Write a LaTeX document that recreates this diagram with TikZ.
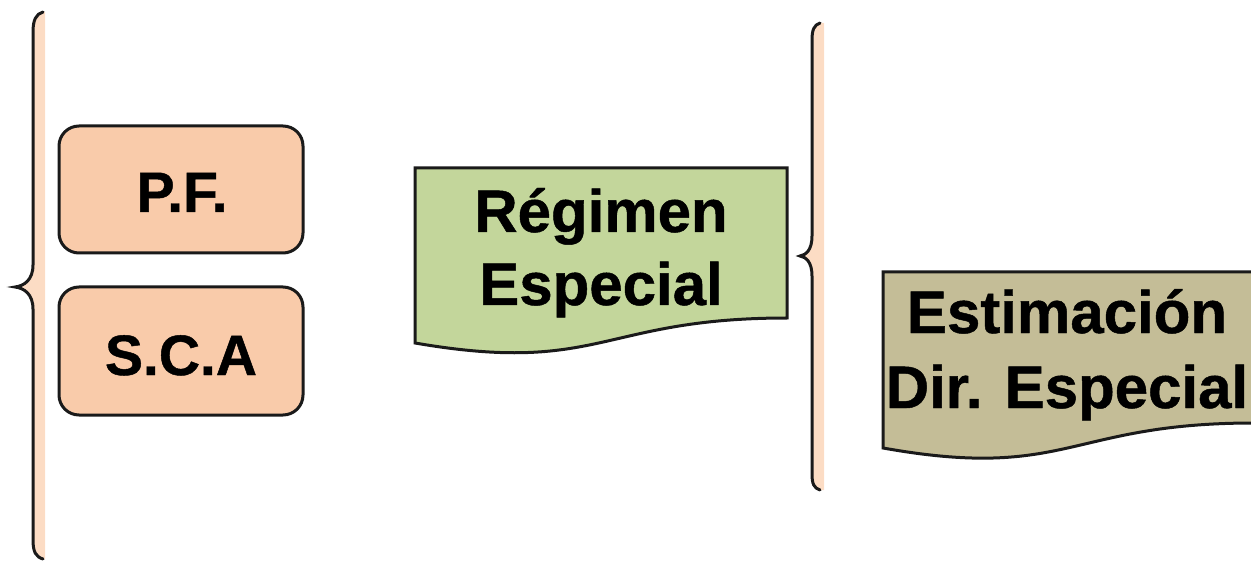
\documentclass[tikz,border=0pt]{standalone}
\usepackage{fontspec}
\setmainfont{Liberation Sans}[BoldFeatures={FakeBold=0.8}]
\definecolor{peach}{HTML}{F9CBAA}
\definecolor{peachlight}{HTML}{FCDCC4}
\definecolor{olivegreen}{HTML}{C3D69B}
\definecolor{tan}{HTML}{C4BD97}
\definecolor{ink}{HTML}{1A1A1A}
\tikzset{
  rbox/.style={draw=ink, line width=3pt, fill=peach, rounded corners=20pt},
  docshape/.style={draw=ink, line width=3pt},
  bracestyle/.style={draw=ink, line width=3pt, line cap=round},
  bigtext/.style={font=\fontsize{60}{72}\selectfont\bfseries, inner sep=0pt, anchor=base},
  midtext/.style={font=\fontsize{57}{66}\selectfont\bfseries, inner sep=0pt, anchor=base}
}
\begin{document}
\begin{tikzpicture}[x=1pt, y=-1pt]
\useasboundingbox (0,0) rectangle (1251,564);
\clip (0,0) rectangle (1251,564);
% left brace
\fill[peachlight] (43,12) .. controls (36,14) and (33,20) .. (33,32) -- (33,265)
  .. controls (33,280) and (24,286) .. (15,287) .. controls (24,288) and (33,294) .. (33,309)
  -- (33,540) .. controls (33,552) and (36,557) .. (43,559) -- (45,559) -- (45,12) -- cycle;
\draw[bracestyle] (43,12) .. controls (36,14) and (33,20) .. (33,32) -- (33,265)
  .. controls (33,280) and (24,286) .. (15,287) .. controls (24,288) and (33,294) .. (33,309)
  -- (33,540) .. controls (33,552) and (36,557) .. (43,559);
% boxes
\draw[rbox] (59,126) rectangle (303,253);
\node[midtext] (pf) at (182,212) {P.F.};
\draw[rbox] (59,287) rectangle (303,415);
\node[midtext] (sca) at (181,375) {S.C.A};
% Regimen especial document shape
\draw[docshape, fill=olivegreen] (415,168) -- (787,168) -- (787,318)
  .. controls (601,318) and (601,375) .. (415,343) -- cycle;
\node[bigtext] (reg1) at (601,232) {Régimen};
\node[bigtext] (reg2) at (601,305) {Especial};
% right brace
\fill[peachlight] (820,23) .. controls (814,25) and (812,30) .. (812,40) -- (812,236)
  .. controls (812,250) and (806,255) .. (800,256) .. controls (806,257) and (812,262) .. (812,276)
  -- (812,474) .. controls (812,484) and (814,488) .. (820,490) -- (824,490) -- (824,23) -- cycle;
\draw[bracestyle] (820,23) .. controls (814,25) and (812,30) .. (812,40) -- (812,236)
  .. controls (812,250) and (806,255) .. (800,256) .. controls (806,257) and (812,262) .. (812,276)
  -- (812,474) .. controls (812,484) and (814,488) .. (820,490);
% Estimacion document shape
\draw[docshape, fill=tan] (883,272) -- (1254,272) -- (1254,423)
  .. controls (1068,423) and (1068,481) .. (883,448) -- cycle;
\node[bigtext] (est1) at (1067,333) {Estimación};
\node[bigtext] (est2) at (1067,408) {Dir. Especial};
\end{tikzpicture}
\end{document}
